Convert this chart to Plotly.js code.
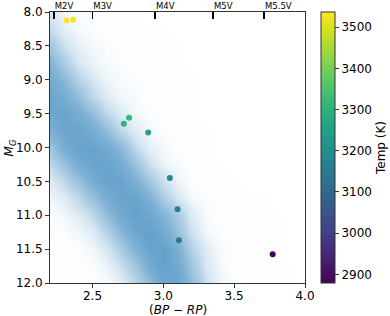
<!DOCTYPE html>
<html>
<head>
<meta charset="utf-8">
<script src="https://cdn.plot.ly/plotly-3.0.1.min.js"></script>
<style>html,body{margin:0;padding:0;background:#fff}#chart{width:390px;height:316px}</style>
</head>
<body>
<div id="chart"></div>
<script>
var gridBpRp = [2.2,2.3,2.4,2.5,2.6,2.7,2.8,2.9,3.0,3.1,3.2,3.3,3.4,3.5,3.6,3.7,3.8,3.9,4.0];
var gridMG = [8.0,8.25,8.5,8.75,9.0,9.25,9.5,9.75,10.0,10.25,10.5,10.75,11.0,11.25,11.5,11.75,12.0];
var cloudDensity = [
  [1.5,0.6,0.3,0.2,0.1,0.1,0.05,0,0,0,0,0,0,0,0,0,0,0,0],
  [2.2,1,0.5,0.3,0.2,0.1,0.1,0.05,0.05,0,0,0,0,0,0,0,0,0,0],
  [4,2,1,0.5,0.3,0.2,0.15,0.1,0.05,0.05,0,0,0,0,0,0,0,0,0],
  [6,3.5,1.5,0.8,0.4,0.3,0.2,0.1,0.1,0.05,0,0,0,0,0,0,0,0,0],
  [7.5,5.5,3,1.5,0.7,0.4,0.3,0.2,0.1,0.05,0.05,0,0,0,0,0,0,0,0],
  [8,7,5,2.5,1.2,0.6,0.4,0.2,0.15,0.1,0.05,0,0,0,0,0,0,0,0],
  [8,8.5,7,5,2.5,1.2,0.6,0.3,0.2,0.1,0.05,0,0,0,0,0,0,0,0],
  [6.5,8,8.5,7,5,2.5,1.2,0.5,0.3,0.15,0.1,0.05,0,0,0,0,0,0,0],
  [4,7,8.5,8.5,7.5,5.5,2.5,1,0.5,0.2,0.1,0.05,0,0,0,0,0,0,0],
  [2.5,4.5,7,8.5,8.5,7,4.5,2,0.8,0.4,0.2,0.1,0.05,0,0,0,0,0,0],
  [1.2,2.5,4.5,7,8.5,8.5,6.5,4,2,0.7,0.3,0.15,0.1,0.05,0,0,0,0,0],
  [0.6,1.2,2.5,4.5,7,8.5,8.5,6.5,3.5,1.5,0.5,0.3,0.15,0.1,0.05,0.05,0,0,0],
  [0.3,0.6,1.2,2.5,5,7.5,9,8,6,3.5,1.2,0.4,0.2,0.1,0.1,0.05,0.05,0,0],
  [0.15,0.3,0.6,1.2,3,5.5,8,9,7.5,4.5,1.8,0.6,0.3,0.15,0.1,0.05,0.05,0,0],
  [0.1,0.15,0.3,0.6,1.5,3.5,6,8.5,9,6.5,3,1.2,0.4,0.2,0.1,0.1,0.05,0,0],
  [0.05,0.1,0.15,0.3,0.8,2,4,7,9,7.5,4,1.5,0.5,0.2,0.1,0.1,0.05,0.05,0],
  [0,0.05,0.1,0.2,0.4,1,2.5,5,8,8,5,2,0.7,0.3,0.1,0.1,0.05,0.05,0]
];

// Highlighted stars
var starBpRp = [2.316, 2.363, 2.758, 2.721, 2.893, 3.046, 3.100, 3.110, 3.772];
var starMG   = [8.125, 8.115, 9.56, 9.65, 9.78, 10.45, 10.91, 11.37, 11.577];
var starTemp = [3537, 3525, 3320, 3300, 3260, 3190, 3170, 3160, 2879];

// Spectral type ticks on the top axis
var sptPos = [2.228, 2.5, 2.942, 3.352, 3.712];
var sptLabels = ['M2V', 'M3V', 'M4V', 'M5V', 'M5.5V'];

// Axis ticks
var xTicks = [2.5, 3.0, 3.5, 4.0];
var yTicks = [8.0, 8.5, 9.0, 9.5, 10.0, 10.5, 11.0, 11.5, 12.0];
var tempTicks = [2900, 3000, 3100, 3200, 3300, 3400, 3500];

var FONT = 'DejaVu Sans, sans-serif';
var AX = '#333';

var traces = [
  {
    type: 'heatmap', x: gridBpRp, y: gridMG, z: cloudDensity,
    zmin: 0, zmax: 10, zsmooth: 'best', showscale: false, hoverinfo: 'skip',
    colorscale: [
      [0, 'rgba(31,119,180,0)'],
      [0.03, 'rgba(31,119,180,0.02)'],
      [0.1, 'rgba(31,119,180,0.12)'],
      [0.3, 'rgba(31,119,180,0.34)'],
      [0.6, 'rgba(31,119,180,0.56)'],
      [1, 'rgba(31,119,180,0.74)']
    ]
  },
  {
    type: 'scatter', mode: 'markers', x: starBpRp, y: starMG,
    marker: {
      size: 6, color: starTemp, colorscale: 'Viridis', cmin: 2879, cmax: 3537,
      line: {width: 0},
      colorbar: {
        x: 1.063, xanchor: 'left', xpad: 0, y: 0.5, yanchor: 'middle',
        len: 1, lenmode: 'fraction', thickness: 14, thicknessmode: 'pixels', ypad: 0,
        outlinewidth: 1, outlinecolor: AX,
        tickvals: tempTicks, ticks: 'outside', ticklen: 4, tickcolor: AX,
        tickfont: {family: FONT, size: 12, color: '#000'},
        title: {text: 'Temp (K)', side: 'right', font: {family: FONT, size: 12, color: '#000'}}
      }
    },
    xaxis: 'x', yaxis: 'y', hoverinfo: 'skip'
  },
  {
    type: 'scatter', mode: 'markers', x: [sptPos[0]], y: [8.0],
    marker: {opacity: 0, size: 1}, xaxis: 'x2', yaxis: 'y', hoverinfo: 'skip', showlegend: false
  }
];

var layout = {
  width: 390, height: 316,
  margin: {l: 50, r: 85, t: 12, b: 33, autoexpand: false},
  paper_bgcolor: '#fff', plot_bgcolor: '#fff',
  showlegend: false,
  font: {family: FONT, size: 12, color: '#000'},
  xaxis: {
    range: [2.2, 4.0], tickvals: xTicks, ticktext: xTicks.map(function(v){return v.toFixed(1);}),
    ticks: 'outside', ticklen: 4, tickwidth: 1, tickcolor: AX, ticklabelstandoff: -2,
    showline: true, linecolor: AX, linewidth: 1, mirror: true,
    showgrid: false, zeroline: false,
    tickfont: {family: FONT, size: 12}
  },
  xaxis2: {
    overlaying: 'x', side: 'top', range: [2.2, 4.0], anchor: 'y',
    tickvals: sptPos, ticktext: sptLabels,
    ticks: 'inside', ticklen: 7, tickwidth: 1.6, tickcolor: '#000',
    ticklabelposition: 'outside right',
    showline: false, showgrid: false, zeroline: false,
    tickfont: {family: FONT, size: 8.5}
  },
  yaxis: {
    range: [12.0, 8.0], tickvals: yTicks, ticktext: yTicks.map(function(v){return v.toFixed(1);}),
    ticks: 'outside', ticklen: 4, tickwidth: 1, tickcolor: AX,
    showline: true, linecolor: AX, linewidth: 1, mirror: true,
    showgrid: false, zeroline: false,
    tickfont: {family: FONT, size: 12}
  },
  annotations: [
    {text: '(<i>BP</i> − <i>RP</i>)', xref: 'paper', yref: 'paper', x: 0.5, y: -0.101,
     xanchor: 'center', yanchor: 'middle', showarrow: false, font: {family: FONT, size: 12}},
    {text: '<i>M</i><sub><i>G</i></sub>', xref: 'paper', yref: 'paper', x: -0.157, y: 0.5,
     xanchor: 'center', yanchor: 'middle', textangle: -90, showarrow: false, font: {family: FONT, size: 12}}
  ]
};

Plotly.newPlot('chart', traces, layout, {displayModeBar: false, staticPlot: true});
</script>
</body>
</html>
